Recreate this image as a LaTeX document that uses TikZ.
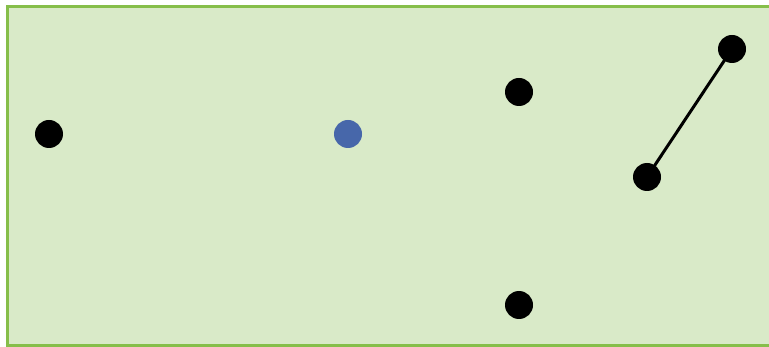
\documentclass[tikz,border=0pt]{standalone}
\definecolor{bgfill}{HTML}{D9EAC8}
\definecolor{bgline}{HTML}{86BE4A}
\definecolor{dotblue}{HTML}{4767AA}
\begin{document}
\begin{tikzpicture}[x=1pt,y=-1pt,
  dot/.style={circle,fill=black,draw=none,inner sep=0pt,minimum size=28pt},
  bluedot/.style={dot,fill=dotblue},
  link/.style={line width=3pt}]
\useasboundingbox (0,0) rectangle (769,347);
\fill[white] (0,0) rectangle (769,347);
\draw[fill=bgfill,draw=bgline,line width=3pt] (7,6.3) rectangle (780,345.5);
\node[dot] (a) at (49,134) {};
\node[bluedot] (c) at (348,134) {};
\node[dot] (d) at (519,92) {};
\node[dot] (e) at (519,305) {};
\node[dot] (f) at (647,177) {};
\node[dot] (g) at (732,49) {};
\draw[link] (f.center) -- (g.center);
\end{tikzpicture}
\end{document}
